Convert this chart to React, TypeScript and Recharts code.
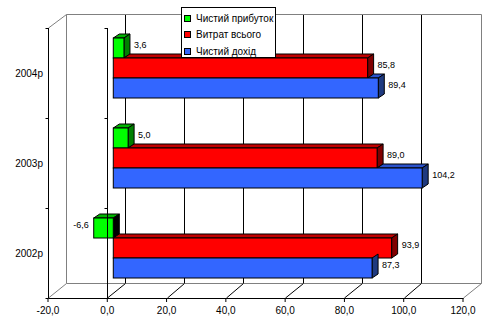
import React from 'react';
import * as Recharts from 'recharts';
import { BarChart, Bar, XAxis, YAxis, Legend, LabelList, Customized } from 'recharts';

const years = ['2004р', '2003р', '2002р'];
const profit = [3.6, 5.0, -6.6];
const expenses = [85.8, 89.0, 93.9];
const income = [89.4, 104.2, 87.3];
const valueTicks = [-20, 0, 20, 40, 60, 80, 100, 120];
const seriesNames = ['Чистий прибуток', 'Витрат всього', 'Чистий дохід'];

const data = years.map((year, i) => ({
  year,
  profit: profit[i],
  expenses: expenses[i],
  income: income[i],
}));

const FONT = '"Liberation Sans", Arial, sans-serif';
const W = 498;
const H = 331;
const PLOT_L = 48;
const PLOT_R = 469;
const PLOT_T = 23;
const PLOT_B = 298;
const SHIFT_X = 6;
const SHIFT_Y = 5;
const DMIN = -20;
const DMAX = 120;
const BACK_DX = 17.5;
const BACK_TOP = 14;
const BACK_BOTTOM = 283;
const DX = 6;
const DY = 4;

const fmt = (v: number) => v.toFixed(1).replace('.', ',');
const fx = (v: number) => PLOT_L + ((v - DMIN) / (DMAX - DMIN)) * (PLOT_R - SHIFT_X - PLOT_L);
const frontTop = PLOT_T + SHIFT_Y;
const bandH = (PLOT_B - frontTop) / years.length;
const r = (v: number) => Math.round(v) + 0.5;

const colors = {
  profit: { front: '#00FF00', top: '#00B400', side: '#008000', negSide: '#000000' },
  expenses: { front: '#FF0000', top: '#C00000', side: '#800000', negSide: '#800000' },
  income: { front: '#3366FF', top: '#2B52CC', side: '#1F3A80', negSide: '#1F3A80' },
};

const Z = (Recharts as any).ZIndexLayer;
const Layer = ({ z, children }: { z: number; children: React.ReactNode }) =>
  Z ? <Z zIndex={z}>{children}</Z> : <g>{children}</g>;

const BackDecor = () => {
  const bl = r(fx(DMIN) + BACK_DX);
  const br = r(fx(DMAX) + BACK_DX);
  return (
    <Layer z={-50}>
      <g>
        {valueTicks.slice(1, -1).map((v) => (
          <line key={'g' + v} x1={r(fx(v) + BACK_DX)} x2={r(fx(v) + BACK_DX)} y1={BACK_TOP} y2={BACK_BOTTOM} stroke="#000" />
        ))}
        <polyline points={`${bl},${BACK_BOTTOM + 0.5} ${bl},${BACK_TOP + 0.5} ${br},${BACK_TOP + 0.5} ${br},${BACK_BOTTOM + 0.5}`} fill="none" stroke="#808080" />
        <line x1={bl} x2={br} y1={BACK_BOTTOM + 0.5} y2={BACK_BOTTOM + 0.5} stroke="#808080" />
        <line x1={r(fx(DMIN))} y1={frontTop} x2={bl} y2={BACK_TOP + 0.5} stroke="#808080" />
        {valueTicks.map((v, i) => (
          <line
            key={'d' + v}
            x1={r(fx(v))}
            y1={PLOT_B}
            x2={r(fx(v) + BACK_DX)}
            y2={BACK_BOTTOM + 0.5}
            stroke={i === 0 || i === valueTicks.length - 1 ? '#808080' : '#000'}
          />
        ))}
      </g>
    </Layer>
  );
};

const FrontDecor = () => {
  const x0 = r(fx(0));
  const xl = r(fx(DMIN));
  const bounds = years.map((_, i) => frontTop + i * bandH).concat([PLOT_B]);
  return (
    <Layer z={600}>
      <g>
        <line x1={xl} x2={xl} y1={frontTop} y2={PLOT_B} stroke="#000" />
        <line x1={x0} x2={x0} y1={frontTop} y2={PLOT_B} stroke="#000" />
        {bounds.map((b, i) => (
          <g key={'b' + i}>
            <line x1={xl - 3} x2={xl} y1={r(b)} y2={r(b)} stroke="#000" />
            <line x1={x0 - 3} x2={x0} y1={r(b)} y2={r(b)} stroke="#000" />
          </g>
        ))}
        <line x1={xl} x2={r(fx(DMAX))} y1={PLOT_B + 0.5} y2={PLOT_B + 0.5} stroke="#000" />
      </g>
    </Layer>
  );
};

const makeShape = (key: 'profit' | 'expenses' | 'income', prevKey: 'profit' | 'expenses' | null) => (props: any) => {
  const { x, y, width, height, payload } = props;
  if (x == null || y == null) return null;
  const v: number = payload[key];
  const c = colors[key];
  const left = Math.min(x, x + width);
  const right = Math.max(x, x + width);
  const w = right - left;
  const ppu = v !== 0 ? w / Math.abs(v) : 0;
  const zeroX = v >= 0 ? left : right;
  let start = left;
  if (prevKey) start = Math.max(left, zeroX + Math.max(payload[prevKey], 0) * ppu);
  const top = y;
  const bottom = y + height;
  return (
    <g>
      {start < right && (
        <polygon
          points={`${start},${top} ${start + DX},${top - DY} ${right + DX},${top - DY} ${right},${top}`}
          fill={c.top}
          stroke="#000"
          strokeWidth={1}
          strokeLinejoin="round"
        />
      )}
      <polygon
        points={`${right},${top} ${right + DX},${top - DY} ${right + DX},${bottom - DY} ${right},${bottom}`}
        fill={v < 0 ? c.negSide : c.side}
        stroke="#000"
        strokeWidth={1}
        strokeLinejoin="round"
      />
      <rect x={left} y={top} width={w} height={height} fill={c.front} stroke="#000" strokeWidth={1} />
    </g>
  );
};

const renderLabel = (props: any) => {
  const { x, y, width, height, value } = props;
  if (x == null || y == null) return null;
  const left = Math.min(x, x + width);
  const right = Math.max(x, x + width);
  const cy = y + height / 2 - 3;
  const neg = value < 0;
  return (
    <text
      x={neg ? left - 5 : right + 10}
      y={cy}
      textAnchor={neg ? 'end' : 'start'}
      dominantBaseline="central"
      fontSize={9}
      fontFamily={FONT}
      fill="#000"
    >
      {fmt(value)}
    </text>
  );
};

const legendColors = [colors.profit.front, colors.expenses.front, colors.income.front];

const LegendBox = () => (
  <div
    style={{
      position: 'relative',
      width: 95,
      height: 51,
      boxSizing: 'border-box',
      border: '1px solid #000',
      background: '#fff',
      fontFamily: FONT,
      fontSize: 10,
      color: '#000',
    }}
  >
    {seriesNames.map((n, i) => (
      <div key={n} style={{ position: 'absolute', left: 2, top: 3 + i * 16.5, height: 14, display: 'flex', alignItems: 'center', whiteSpace: 'nowrap' }}>
        <span style={{ display: 'inline-block', width: 5, height: 5, border: '1px solid #000', background: legendColors[i], marginRight: 5 }} />
        <span>{n}</span>
      </div>
    ))}
  </div>
);

export default function App() {
  return (
    <div style={{ position: 'absolute', left: 0, top: 0, width: W, height: H, background: '#fff' }}>
      <BarChart
        width={W}
        height={H}
        data={data}
        layout="vertical"
        margin={{ top: PLOT_T, right: W - PLOT_R, left: 0, bottom: 0 }}
        barCategoryGap={15}
        barGap={0}
      >
        <Customized component={<BackDecor />} />
        <XAxis
          xAxisId="front"
          type="number"
          domain={[DMIN, DMAX]}
          ticks={valueTicks}
          interval={0}
          allowDataOverflow
          padding={{ left: 0, right: SHIFT_X }}
          axisLine={false}
          tickLine={{ stroke: '#000' }}
          tickSize={4}
          tickMargin={5}
          tickFormatter={fmt}
          tick={{ fill: '#000', fontSize: 10, fontFamily: FONT }}
          height={H - PLOT_B}
        />
        <XAxis
          xAxisId="bar"
          type="number"
          orientation="top"
          height={0}
          domain={[DMIN, DMAX]}
          allowDataOverflow
          padding={{ left: SHIFT_X, right: 0 }}
          hide
        />
        <YAxis
          yAxisId="front"
          type="category"
          dataKey="year"
          width={PLOT_L}
          padding={{ top: SHIFT_Y, bottom: 0 }}
          axisLine={false}
          tickLine={false}
          tickSize={0}
          tickMargin={5}
          tick={{ fill: '#000', fontSize: 10, fontFamily: FONT }}
        />
        <YAxis
          yAxisId="bar"
          type="category"
          dataKey="year"
          orientation="right"
          width={0}
          padding={{ top: 0, bottom: SHIFT_Y }}
          hide
        />
        <Bar xAxisId="bar" yAxisId="bar" dataKey="profit" name={seriesNames[0]} fill={colors.profit.front} shape={makeShape('profit', null)} isAnimationActive={false}>
          <LabelList dataKey="profit" content={renderLabel} />
        </Bar>
        <Bar xAxisId="bar" yAxisId="bar" dataKey="expenses" name={seriesNames[1]} fill={colors.expenses.front} shape={makeShape('expenses', 'profit')} isAnimationActive={false}>
          <LabelList dataKey="expenses" content={renderLabel} />
        </Bar>
        <Bar xAxisId="bar" yAxisId="bar" dataKey="income" name={seriesNames[2]} fill={colors.income.front} shape={makeShape('income', 'expenses')} isAnimationActive={false}>
          <LabelList dataKey="income" content={renderLabel} />
        </Bar>
        <Customized component={<FrontDecor />} />
        <Legend
          layout="vertical"
          align="center"
          verticalAlign="middle"
          content={() => <LegendBox />}
          wrapperStyle={{ left: 181, top: 7, width: 95, height: 51 }}
        />
      </BarChart>
    </div>
  );
}
